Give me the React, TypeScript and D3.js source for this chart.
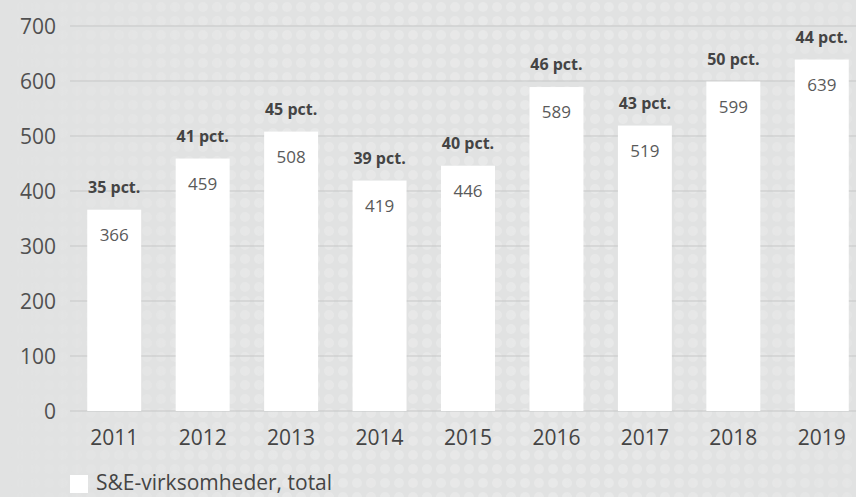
import React, { useEffect } from "react";
import * as d3 from "d3";

const years = ["2011", "2012", "2013", "2014", "2015", "2016", "2017", "2018", "2019"];
const totals = [366, 459, 508, 419, 446, 589, 519, 599, 639];
const pctShares = [35, 41, 45, 39, 40, 46, 43, 50, 44];
const yTicks = [0, 100, 200, 300, 400, 500, 600, 700];
const legendLabel = "S&E-virksomheder, total";

const W = 856;
const H = 497;
const FONT = "'Open Sans', Roboto, sans-serif";

export default function App() {
    useEffect(() => {
        document.body.style.margin = "0";
    }, []);

    const x = d3.scaleBand<string>()
        .domain(years)
        .range([70, 866])
        .paddingInner(0.39)
        .paddingOuter(0.195);

    const y = d3.scaleLinear()
        .domain([0, 700])
        .range([411, 26]);

    return (
        <svg width={W} height={H} style={{ display: "block" }}>
            <defs>
                <pattern id="dots" width="14" height="14" patternUnits="userSpaceOnUse">
                    <circle cx="7" cy="7" r="5" fill="#f4f4f4" />
                </pattern>
                <linearGradient id="fade" x1="0" y1="0" x2="1" y2="0">
                    <stop offset="0" stopColor="#fff" stopOpacity="0" />
                    <stop offset="0.3" stopColor="#fff" stopOpacity="0.5" />
                    <stop offset="0.7" stopColor="#fff" stopOpacity="0.6" />
                    <stop offset="1" stopColor="#fff" stopOpacity="0.3" />
                </linearGradient>
                <mask id="fadeMask">
                    <rect x={0} y={0} width={W} height={H} fill="url(#fade)" />
                </mask>
            </defs>
            <rect x={0} y={0} width={W} height={H} fill="#e1e2e2" />
            <rect x={0} y={0} width={W} height={H} fill="url(#dots)" mask="url(#fadeMask)" opacity={0.6} />

            {yTicks.map(t => (
                <g key={t}>
                    <line x1={70} x2={W} y1={y(t)} y2={y(t)} stroke="#c6c7c7" strokeWidth={1} />
                    <text x={56} y={y(t)} dy="0.36em" textAnchor="end" fontFamily={FONT}
                        fontSize={21} fill="#505050">{t}</text>
                </g>
            ))}

            {years.map((yr, i) => {
                const bx = x(yr) as number;
                const cx = bx + x.bandwidth() / 2;
                const top = y(totals[i]);
                return (
                    <g key={yr}>
                        <rect x={bx} y={top} width={x.bandwidth()} height={y(0) - top} fill="#fff" />
                        <text x={cx} y={top + 31} textAnchor="middle" fontFamily={FONT}
                            fontSize={17} fill="#5a5a5a">{totals[i]}</text>
                        <text x={cx} y={top - 17} textAnchor="middle" fontFamily={FONT}
                            fontSize={16} fontWeight="bold" fill="#444">{pctShares[i]} pct.</text>
                        <text x={cx} y={445} textAnchor="middle" fontFamily={FONT}
                            fontSize={21} fill="#444">{yr}</text>
                    </g>
                );
            })}

            <rect x={70} y={475} width={18} height={18} fill="#fff" />
            <text x={96} y={490} fontFamily={FONT} fontSize={21} fill="#444">{legendLabel}</text>
        </svg>
    );
}
